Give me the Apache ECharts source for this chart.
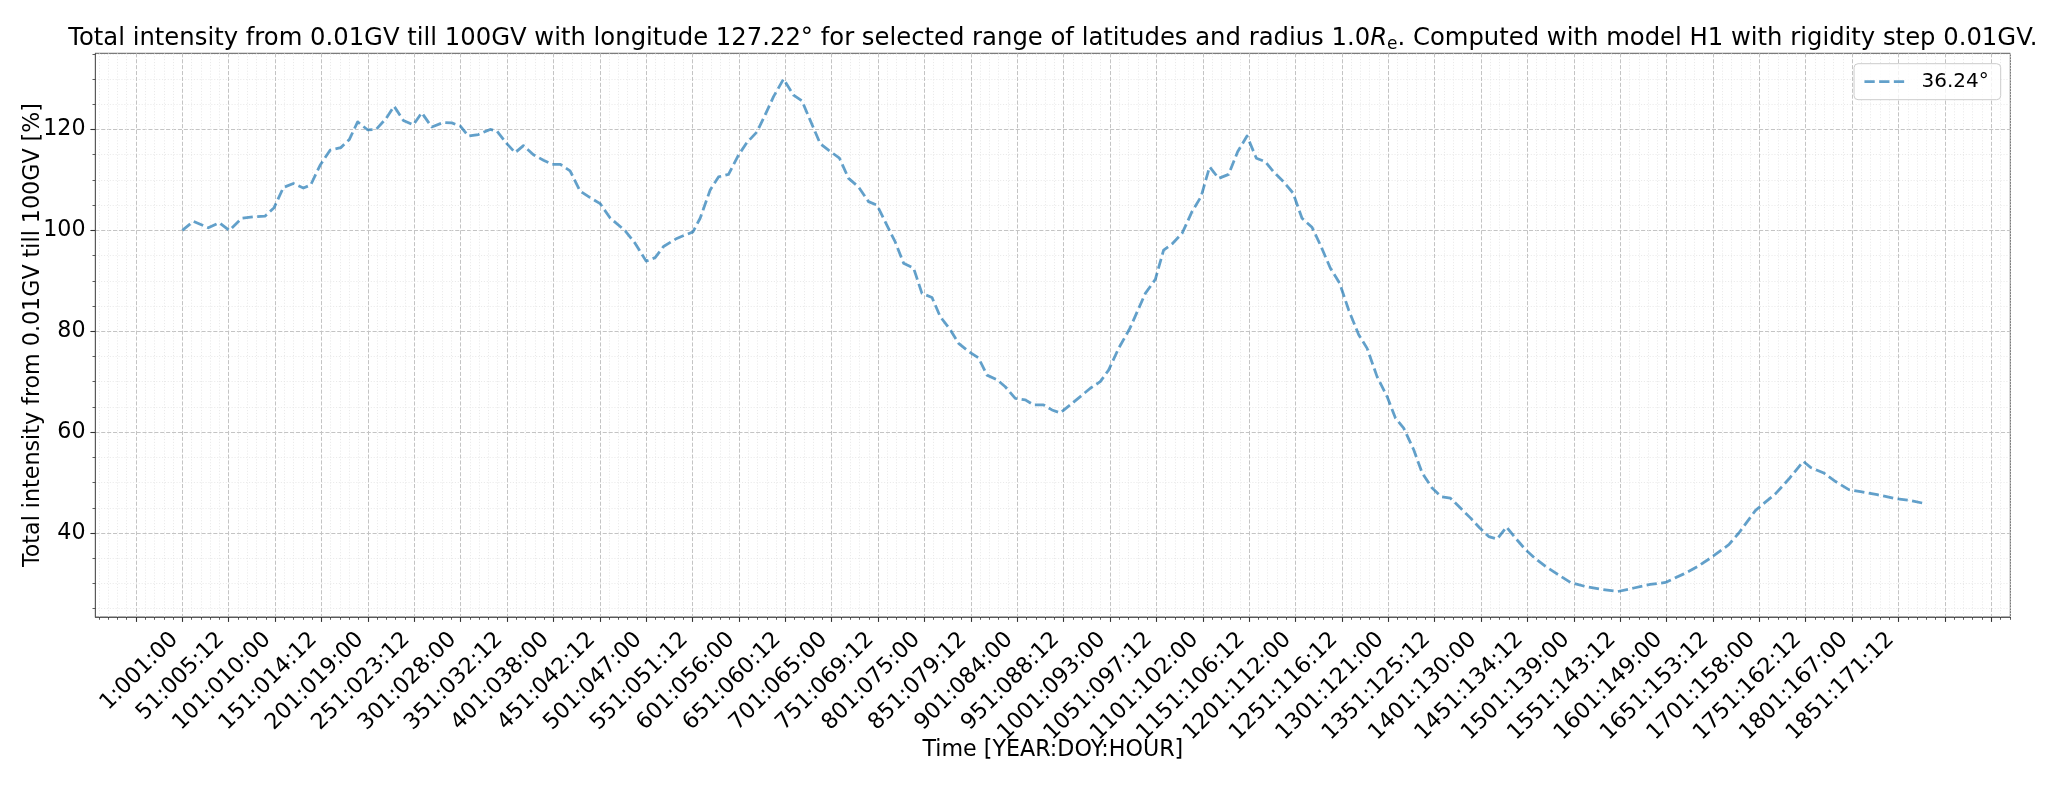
<!DOCTYPE html>
<html>
<head>
<meta charset="utf-8">
<script src="https://cdn.jsdelivr.net/npm/echarts@6/dist/echarts.min.js"></script>
<style>
html,body{margin:0;padding:0;background:#fff;}
#chart{width:2063px;height:785px;}
</style>
</head>
<body>
<div id="chart"></div>
<script>
// ---- data ----
const tickLabels = ["1:001:00","51:005:12","101:010:00","151:014:12","201:019:00","251:023:12","301:028:00","351:032:12","401:038:00","451:042:12","501:047:00","551:051:12","601:056:00","651:060:12","701:065:00","751:069:12","801:075:00","851:079:12","901:084:00","951:088:12","1001:093:00","1051:097:12","1101:102:00","1151:106:12","1201:112:00","1251:116:12","1301:121:00","1351:125:12","1401:130:00","1451:134:12","1501:139:00","1551:143:12","1601:149:00","1651:153:12","1701:158:00","1751:162:12","1801:167:00","1851:171:12"];
const yTickValues = [40, 60, 80, 100, 120];
const seriesName = "36.24°";
const xSteps = [0,11.9,28,40,50.7,64,76.6,89,98.9,109,119.7,130.5,138.4,148.5,159.3,170.8,180,189,200,208.9,219.7,228.3,238.3,249,258.1,268.9,281.5,290.5,299.5,308.4,319.2,331.8,339,349.8,358.8,367.7,378.5,389.3,398.3,407.3,418,428.8,439.6,450.4,461,
477.4,488.2,500,509.7,518.7,533,550.4,558.2,569,578,588.8,599.5,608.6,619.4,627.3,637.3,648.1,658.9,667.9,676.9,687.6,696.6,708.4,718.2,729,739.7,748.8,759.6,768.5,777.5,788.3,797.3,808.1,817,827.8,836.8,847.6,858.3,867.4,878.2,887.1,897.9,908.7,917.6,928.4,937.5,946.4,957.2,968,978.8,989.5,998.5,1009.3,1021.5,
1038.1,1048.9,1057.8,1066.9,1077.7,1088.4,1098.2,1107.4,1117.1,1127.9,1137.6,1147.7,1157.8,1167.5,1176.4,1187.2,1197.3,1207,1217.8,1226.8,1237.6,1247.6,1257.3,1268.1,1277.2,1287.9,1298.7,1307.7,1316.6,1327.4,1336.5,1347.3,1357,1367,1377.8,1388.5,1398.6,1408.3,1417.4,1427.4,1437.1,1447.9,1458.7,1469.5,1480.2,1496.4,1512.6,1530.6,1547.4,1564.7,1582.3,
1598.8,1618.6,1633,1647.4,1667.1,1677.9,1695.9,1717.5,1731.8,1747.3,1755.2,1769.5,1782.2,1796.5,1809.1,1827.1,1846.8,1861.2,1876.7];
const intensity = [100,101.8,100.5,101.5,100,102.4,102.7,102.8,104.5,108.5,109.3,108.4,109,112.9,115.9,116.4,118,121.5,119.9,120,122.2,124.6,121.8,120.9,123.3,120.5,121.4,121.3,120.7,118.7,119,120,119.7,117.2,115.4,116.8,115,113.9,113.1,113.1,111.8,107.8,106.5,105.3,102.5,
99.9,97.4,93.9,94.6,96.8,98.4,99.7,102.4,108,110.6,111.1,114.9,117.4,119.5,122.5,126.5,130,126.8,125.7,121.8,117.2,115.9,114.3,110.3,108.6,105.7,105,101,97.7,93.5,92.5,87.5,86.7,82.9,80.3,77.6,76,74.7,71.3,70.4,69,66.7,66.4,65.4,65.4,64.4,63.8,65.4,67.05,68.7,70,72.3,76.6,80.6,
87.5,90.3,96.1,97.3,99.4,103.7,106.7,112.6,110.3,111.1,115.6,118.7,114.3,113.6,111.6,109.6,107.4,102.4,100.6,97.1,92.5,89.5,84.2,79.3,76.6,71,67.05,62.8,60.8,56.5,51.9,48.9,47.2,46.9,44.95,43,41,39.3,38.8,41.2,39,36.7,34.9,33.4,32.1,30.2,29.4,28.8,28.4,29.1,29.8,
30.2,31.9,33.3,35.05,37.7,40,44.5,47.8,50.7,54.2,53,51.9,50.2,48.6,48.2,47.6,46.8,46.5,45.9];

// ---- chart ----
const F = "'DejaVu Sans', sans-serif";
const STEP = 50;
const labelPositions = tickLabels.map((_, i) => i * STEP);
const tickPositions = [];
for (let v = -STEP; v <= 1950; v += STEP) tickPositions.push(v);
const lineData = xSteps.map((x, i) => [x, intensity[i]]);
const lineColor = 'rgba(31,119,180,0.7)';

function xLabel(v) {
  const i = Math.round(v / STEP);
  if (Math.abs(v - i * STEP) < 1e-6 && i >= 0 && i < tickLabels.length) return tickLabels[i];
  return '';
}

const chart = echarts.init(document.getElementById('chart'), null, {renderer: 'canvas'});
const option = {
  animation: false,
  backgroundColor: '#ffffff',
  grid: {
    left: 95.3, right: 52.7, top: 53.3, bottom: 168,
    show: true, borderColor: '#5a5a5a', borderWidth: 1, backgroundColor: 'transparent',
    containLabel: false, outerBoundsMode: 'none'
  },
  legend: {
    show: true, right: 62.3, top: 63.7, orient: 'vertical',
    padding: [8, 12, 8, 9], itemWidth: 41, itemHeight: 14,
    backgroundColor: 'rgba(255,255,255,0.8)', borderColor: '#cccccc', borderWidth: 1, borderRadius: 4,
    textStyle: {fontSize: 20, fontFamily: F, color: '#000', padding: [0, 0, 0, 11]},
    itemStyle: {opacity: 0},
    lineStyle: {width: 2.78, type: [10.3, 4.4], color: lineColor},
    data: [seriesName]
  },
  xAxis: {
    type: 'value', min: -93.8, max: 1970.5, splitNumber: 41, minInterval: STEP, maxInterval: STEP,
    axisLine: {show: true, onZero: false, lineStyle: {color: '#5a5a5a', width: 1}},
    axisTick: {show: true, length: 4.9, customValues: tickPositions, lineStyle: {color: '#333', width: 1.1}},
    minorTick: {show: true, splitNumber: 5, length: 2.8, lineStyle: {color: '#333', width: 0.8}},
    axisLabel: {
      customValues: labelPositions, rotate: 45, margin: 27, align: 'right', verticalAlign: 'bottom',
      fontSize: 22.2, fontFamily: F, color: '#000', formatter: xLabel, hideOverlap: false
    },
    splitLine: {show: true, lineStyle: {color: '#c4c4c4', width: 1, type: [4.1, 1.8]}},
    minorSplitLine: {show: true, lineStyle: {color: '#e4e4e4', width: 0.8, type: [1.1, 1.8]}}
  },
  yAxis: {
    type: 'value', min: 23.35, max: 135.1, splitNumber: 6, minInterval: 20, maxInterval: 20,
    axisLine: {show: true, onZero: false, lineStyle: {color: '#5a5a5a', width: 1}},
    axisTick: {show: true, length: 4.9, customValues: yTickValues, lineStyle: {color: '#333', width: 1.1}},
    minorTick: {show: true, splitNumber: 4, length: 2.8, lineStyle: {color: '#333', width: 0.8}},
    axisLabel: {customValues: yTickValues, margin: 9.8, fontSize: 22.2, fontFamily: F, color: '#000'},
    splitLine: {show: true, lineStyle: {color: '#c4c4c4', width: 1, type: [4.1, 1.8]}},
    minorSplitLine: {show: true, lineStyle: {color: '#e4e4e4', width: 0.8, type: [1.1, 1.8]}}
  },
  series: [{
    type: 'line', name: seriesName, data: lineData, symbol: 'none', showSymbol: false,
    lineStyle: {color: lineColor, width: 2.78, type: [10.3, 4.4], join: 'round', cap: 'butt'},
    itemStyle: {color: lineColor}
  }],
  graphic: [
    {
      type: 'text', x: 1052.8, y: 39, silent: true,
      style: {
        text: '{n|Total intensity from 0.01GV till 100GV with longitude 127.22° for selected range of latitudes and radius 1.0}{i|R}{s|e}{n|. Computed with model H1 with rigidity step 0.01GV.}',
        align: 'center', verticalAlign: 'middle', fill: '#000',
        rich: {
          n: {fontSize: 24.3, fontFamily: F, lineHeight: 32, fill: '#000'},
          i: {fontSize: 24.3, fontFamily: F, fontStyle: 'italic', lineHeight: 32, fill: '#000'},
          s: {fontSize: 17, fontFamily: F, lineHeight: 17, padding: [11, 0, 0, 0], fill: '#000'}
        }
      }
    },
    {
      type: 'text', x: 33, y: 335, rotation: Math.PI / 2, silent: true,
      style: {text: 'Total intensity from 0.01GV till 100GV [%]', fontSize: 22.2, fontFamily: F, fill: '#000', align: 'center', verticalAlign: 'middle'}
    },
    {
      type: 'text', x: 1052.8, y: 750.5, silent: true,
      style: {text: 'Time [YEAR:DOY:HOUR]', fontSize: 22.2, fontFamily: F, fill: '#000', align: 'center', verticalAlign: 'middle'}
    }
  ]
};
chart.setOption(option);
</script>
</body>
</html>
